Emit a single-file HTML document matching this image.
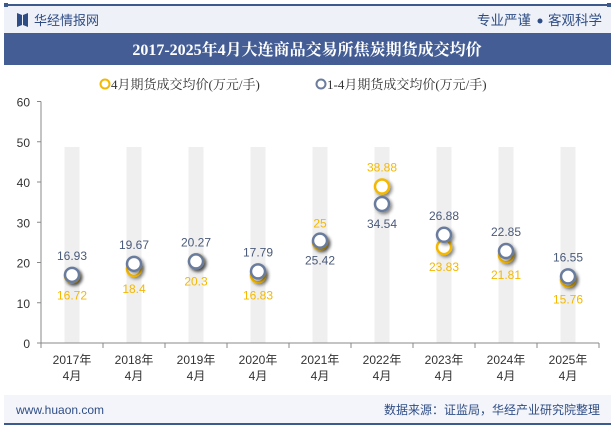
<!DOCTYPE html>
<html><head><meta charset="utf-8"><style>
body{margin:0;width:615px;height:427px;overflow:hidden;background:#fff;font-family:"Liberation Sans","Noto Sans CJK SC",sans-serif}
</style></head><body>
<svg width="615" height="427" xmlns="http://www.w3.org/2000/svg">
<defs><filter id="sh" x="-50%" y="-50%" width="200%" height="200%"><feDropShadow dx="2" dy="2" stdDeviation="1.5" flood-color="#000" flood-opacity="0.45"/></filter></defs>
<rect x="4" y="5" width="607" height="28" fill="#eef1f7"/>
<rect x="4" y="4" width="607" height="2" fill="#3d5a8c"/>
<rect x="4" y="3" width="4" height="4" fill="#3d5a8c"/><rect x="607" y="3" width="4" height="4" fill="#3d5a8c"/>
<path d="M17 13 L22 15 L22 25 L17 27 Z M28 13 L23 15 L23 25 L28 27 Z" fill="#2f4d85"/>
<text x="34" y="25" font-size="13" fill="#2f4d85">华经情报网</text>
<text x="531" y="25" font-size="13.5" fill="#2f4d85" text-anchor="end">专业严谨</text>
<circle cx="540" cy="21" r="2.5" fill="#2f4d85"/>
<text x="602" y="25" font-size="13.5" fill="#2f4d85" text-anchor="end">客观科学</text>
<rect x="4" y="33" width="607" height="32" fill="#445e95"/>
<text x="307" y="55" font-size="16" font-weight="bold" fill="#fff" text-anchor="middle" font-family="Liberation Serif,Noto Serif CJK SC,serif">2017-2025年4月大连商品交易所焦炭期货成交均价</text>
<g font-family="Liberation Serif,Noto Serif CJK SC,serif">
<circle cx="105" cy="84" r="4.5" fill="#fff" stroke="#f5b800" stroke-width="2"/>
<text x="111" y="89" font-size="13" fill="#333">4月期货成交均价(万元/手)</text>
<circle cx="321" cy="84" r="4.5" fill="#fff" stroke="#6b7c9e" stroke-width="2"/>
<text x="327" y="89" font-size="13" fill="#333">1-4月期货成交均价(万元/手)</text>
</g>
<g id="plot"></g>
<rect x="4" y="395" width="607" height="29" fill="#f3f5fa"/>
<rect x="4" y="423" width="607" height="2" fill="#3d5a8c"/>
<text x="16" y="414" font-size="12" fill="#2f4d85">www.huaon.com</text>
<text x="600" y="414" font-size="12" fill="#2f4d85" text-anchor="end">数据来源：证监局，华经产业研究院整理</text>
</svg>
<script>
const categories=["2017年|4月","2018年|4月","2019年|4月","2020年|4月","2021年|4月","2022年|4月","2023年|4月","2024年|4月","2025年|4月"];
const aprilValues=[16.72,18.4,20.3,16.83,25,38.88,23.83,21.81,15.76];
const ytdValues=[16.93,19.67,20.27,17.79,25.42,34.54,26.88,22.85,16.55];
const yTicks=[0,10,20,30,40,50,60];
const aprilLabelAbove=[false,false,false,false,true,true,false,false,false];
const NS="http://www.w3.org/2000/svg";
const g=document.getElementById('plot');
const x0=41,x1=599,yb=343,yt=101.5;
const y=v=>yb-(v-0)/(60-0)*(yb-yt);
const step=(x1-x0)/categories.length;
const x=i=>x0+step*(i+0.5);
function mk(t,a,p){const e=document.createElementNS(NS,t);for(const k in a)e.setAttribute(k,a[k]);(p||g).appendChild(e);return e;}
categories.forEach((c,i)=>{const b=mk('rect',{x:x(i)-7.5,y:147,width:15,height:yb-147,fill:'#efefef'});
});
yTicks.forEach(v=>{const t=mk('text',{x:30,y:y(v)+5,'font-size':12,fill:'#333','text-anchor':'end'});t.textContent=v;

mk('line',{x1:x0-4,x2:x0,y1:y(v),y2:y(v),stroke:'#888'});});
const ax=mk('line',{x1:x0,x2:x0,y1:yt,y2:yb,stroke:'#888'});

const xa=mk('line',{x1:x0,x2:x1,y1:yb,y2:yb,stroke:'#888'});

for(let i=0;i<=categories.length;i++)mk('line',{x1:x0+step*i,x2:x0+step*i,y1:yb,y2:yb+5,stroke:'#888'});
categories.forEach((c,i)=>{const p=c.split('|');p.forEach((s,k)=>{const t=mk('text',{x:x(i),y:yb+21+k*16,'font-size':12,fill:'#333','text-anchor':'middle'});t.textContent=s;
});});
categories.forEach((c,i)=>{
const a=mk('circle',{cx:x(i),cy:y(aprilValues[i]),r:7,fill:'#fff',stroke:'#f5b800','stroke-width':2.5,filter:'url(#sh)'});

const b=mk('circle',{cx:x(i),cy:y(ytdValues[i]),r:7,fill:'#fff',stroke:'#6b7c9e','stroke-width':2.5,filter:'url(#sh)'});

const up=aprilLabelAbove[i];
const la=mk('text',{x:x(i),y:up?y(aprilValues[i])-15:y(aprilValues[i])+24,'font-size':12,fill:'#f5b800','text-anchor':'middle'});la.textContent=aprilValues[i];

const lb=mk('text',{x:x(i),y:up?y(ytdValues[i])+24:y(ytdValues[i])-15,'font-size':12,fill:'#4a5a7a','text-anchor':'middle'});lb.textContent=ytdValues[i];

});
</script>
</body></html>
